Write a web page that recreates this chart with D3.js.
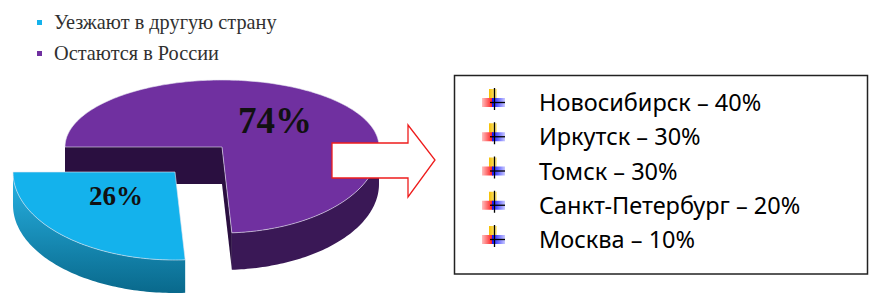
<!DOCTYPE html>
<html>
<head>
<meta charset="utf-8">
<script src="https://cdn.jsdelivr.net/npm/d3@7"></script>
<style>
  body { margin: 0; background: #fff; }
  svg { display: block; }
</style>
</head>
<body>
<svg id="chart" width="869" height="296"></svg>
<script>
// данные
const categories = ["Уезжают в другую страну", "Остаются в России"];
const shares = [26, 74];
const cities = ["Новосибирск", "Иркутск", "Томск", "Санкт-Петербург", "Москва"];
const cityShares = [40, 30, 30, 20, 10];

const svg = d3.select("#chart");
const defs = svg.append("defs");

const topColors = ["#14b2ec", "#7030a0"];
const sideColors = ["url(#cyanSide)", "#3a1856"];
const cutColors = [null, "#2a0f40"];

// градиенты
const gCyan = defs.append("linearGradient").attr("id", "cyanSide")
  .attr("x1", 0).attr("y1", 0).attr("x2", 0).attr("y2", 1);
gCyan.append("stop").attr("offset", "0%").attr("stop-color", "#28b4e6");
gCyan.append("stop").attr("offset", "100%").attr("stop-color", "#09698c");

const gY = defs.append("linearGradient").attr("id", "bYel")
  .attr("x1", 0).attr("y1", 0).attr("x2", 1).attr("y2", 0);
gY.append("stop").attr("offset", "0%").attr("stop-color", "#f5c000");
gY.append("stop").attr("offset", "100%").attr("stop-color", "#ffeea0");
const gR = defs.append("linearGradient").attr("id", "bRed")
  .attr("x1", 0).attr("y1", 0).attr("x2", 1).attr("y2", 0);
gR.append("stop").attr("offset", "0%").attr("stop-color", "#ffc0c0");
gR.append("stop").attr("offset", "100%").attr("stop-color", "#ff1010");
const gB = defs.append("linearGradient").attr("id", "bBlue")
  .attr("x1", 0).attr("y1", 0).attr("x2", 1).attr("y2", 0);
gB.append("stop").attr("offset", "0%").attr("stop-color", "#1010ff");
gB.append("stop").attr("offset", "100%").attr("stop-color", "#c8c8ff");

// легенда
const legend = svg.append("g").selectAll("g")
  .data(categories)
  .join("g")
  .attr("transform", (d, i) => `translate(37, ${20 + i * 31})`);
legend.append("rect")
  .attr("width", 5).attr("height", 5)
  .attr("fill", (d, i) => topColors[i]);
legend.append("text")
  .attr("x", 17).attr("y", 9)
  .style("font-family", "'Liberation Serif', serif")
  .style("font-size", "20.3px")
  .attr("fill", "#303030")
  .text(d => d);

// 3D пирог
const pie = d3.pie().sort(null)
  .startAngle(1.5 * Math.PI - shares[0] / 100 * 2 * Math.PI)
  .endAngle(3.5 * Math.PI - shares[0] / 100 * 2 * Math.PI);
const arcs = pie(shares);

const geo = [
  { cx: 175, cy: 172, rx: 162, ryB: 70, ryF: 88, depth: 33 },
  { cx: 222, cy: 147, rx: 157, ryB: 67, ryF: 86, depth: 37 }
];

function pt(g, a, r, dz) {
  const s = Math.sin(a), c = -Math.cos(a);
  return [g.cx + g.rx * r * s, g.cy + (c > 0 ? g.ryF : g.ryB) * r * c + (dz || 0)];
}
function samples(a0, a1) {
  const n = Math.max(2, Math.ceil(Math.abs(a1 - a0) / 0.02));
  return d3.range(n + 1).map(i => a0 + (a1 - a0) * i / n);
}
const line = d3.line();
const pieG = svg.append("g");

function drawSlice(d, i) {
  const g = geo[i];
  const grp = pieG.append("g");
  // грани разреза
  if (cutColors[i]) {
    [d.startAngle, d.endAngle].forEach(a => {
      const c0 = pt(g, a, 0), e0 = pt(g, a, 1);
      const c1 = pt(g, a, 0, g.depth), e1 = pt(g, a, 1, g.depth);
      grp.append("path")
        .attr("d", line([c0, e0, e1, c1]) + "Z")
        .attr("fill", cutColors[i]);
    });
  }
  // внешняя стенка: видна только передняя половина (90°..270°)
  const vis = [];
  [0, 2 * Math.PI].forEach(off => {
    const s = Math.max(d.startAngle, Math.PI / 2 + off), e = Math.min(d.endAngle, 1.5 * Math.PI + off);
    if (e > s) vis.push([s, e]);
  });
  vis.forEach(([s, e]) => {
    const top = samples(s, e).map(a => pt(g, a, 1));
    const bot = samples(e, s).map(a => pt(g, a, 1, g.depth));
    grp.append("path")
      .attr("d", line(top.concat(bot)) + "Z")
      .attr("fill", sideColors[i]);
  });
  // верхняя грань
  const rim = samples(d.startAngle, d.endAngle).map(a => pt(g, a, 1));
  grp.append("path")
    .attr("d", line([pt(g, 0, 0)].concat(rim)) + "Z")
    .attr("fill", topColors[i])
    .attr("stroke", "#e6e6f0").attr("stroke-opacity", 0.6).attr("stroke-width", 1);
}
// сначала фиолетовый (задний), затем голубой
drawSlice(arcs[1], 1);
drawSlice(arcs[0], 0);

const labelPos = [[116, 205, 27], [275, 133, 37]];
pieG.selectAll("text.pct")
  .data(arcs)
  .join("text")
  .attr("class", "pct")
  .attr("x", (d, i) => labelPos[i][0])
  .attr("y", (d, i) => labelPos[i][1])
  .attr("text-anchor", "middle")
  .style("font-family", "'Liberation Serif', serif")
  .style("font-weight", "bold")
  .style("font-size", (d, i) => labelPos[i][2] + "px")
  .attr("fill", "#111")
  .text(d => d.data + "%");

// стрелка
const ax = 332, ay = 160;
svg.append("path")
  .attr("d", line([[ax, ay - 17], [ax + 76, ay - 17], [ax + 76, ay - 35], [ax + 103, ay],
                   [ax + 76, ay + 37], [ax + 76, ay + 18], [ax, ay + 18]]) + "Z")
  .attr("fill", "#fff").attr("stroke", "#ee1c1c").attr("stroke-width", 1.3);

// блок с городами
svg.append("rect")
  .attr("x", 454.5).attr("y", 75.5).attr("width", 413).attr("height", 198.5)
  .attr("fill", "#fff").attr("stroke", "#222").attr("stroke-width", 1.5);

const y = d3.scalePoint().domain(cities).range([111, 248]);
const items = svg.append("g").selectAll("g")
  .data(cities)
  .join("g")
  .attr("transform", d => `translate(0, ${y(d)})`);

items.append("rect").attr("x", 489).attr("y", -22).attr("width", 8).attr("height", 10).attr("fill", "url(#bYel)");
items.append("rect").attr("x", 482).attr("y", -13).attr("width", 11).attr("height", 9).attr("fill", "url(#bRed)");
items.append("rect").attr("x", 492).attr("y", -13).attr("width", 13).attr("height", 9).attr("fill", "url(#bBlue)");
items.append("line").attr("x1", 494.5).attr("x2", 494.5).attr("y1", -23).attr("y2", -1)
  .attr("stroke", "#000").attr("stroke-width", 1.3);
items.append("line").attr("x1", 490).attr("x2", 505).attr("y1", -8.5).attr("y2", -8.5)
  .attr("stroke", "#000").attr("stroke-width", 1.3);

items.append("text")
  .attr("x", 539)
  .style("font-family", "'Noto Sans', sans-serif")
  .style("font-size", "23.5px")
  .attr("fill", "#000")
  .text((d, i) => `${d} – ${cityShares[i]}%`);
</script>
</body>
</html>
